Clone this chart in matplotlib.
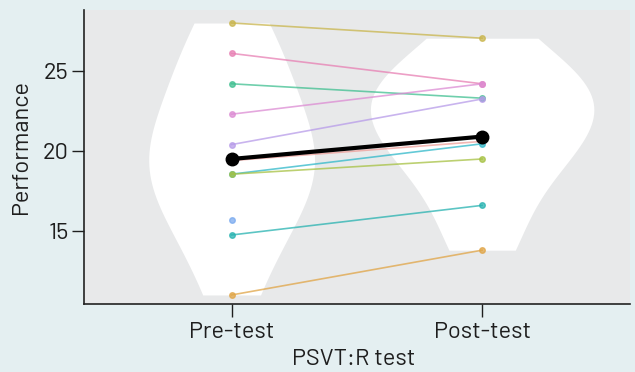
import numpy as np
import matplotlib
matplotlib.use("Agg")
import matplotlib.pyplot as plt

# ---- data ----
tests = ["Pre-test", "Post-test"]
subject_colors = ["#c9b54c", "#e77fb3", "#3fbf90", "#dc8bd3", "#b79be9", "#ee9f9a",
                  "#2fb8c9", "#a6c142", "#78a9ef", "#26b2b0", "#e0a445"]
pre_scores = [28.0, 26.1, 24.2, 22.3, 20.4, 19.4, 18.55, 18.55, 15.7, 14.75, 11.0]
post_scores = [27.05, 24.2, 23.3, 24.2, 23.25, 20.6, 20.45, 19.5, np.nan, 16.6, 13.8]
mean_scores = [19.5, 20.9]
y_ticks = [15, 20, 25]

BG = "#e4eff1"
PANEL = "#e8e9ea"
TXT = "#1e1e1e"
plt.rcParams["font.family"] = ["Barlow", "Barlow Semi Condensed", "DejaVu Sans"]

fig = plt.figure(figsize=(6.35, 3.72), dpi=100, facecolor=BG)
ax = fig.add_axes([0.132, 0.183, 0.860, 0.790])
ax.set_facecolor(PANEL)

xpos = [0, 1]

def kde(vals, grid):
    v = np.asarray([x for x in vals if not np.isnan(x)])
    bw = 1.06 * v.std(ddof=1) * len(v) ** (-1 / 5)
    d = np.exp(-0.5 * ((grid[:, None] - v[None, :]) / bw) ** 2).sum(1)
    return d / (len(v) * bw * np.sqrt(2 * np.pi))

grids, dens = [], []
for vals in (pre_scores, post_scores):
    v = np.asarray([x for x in vals if not np.isnan(x)])
    g = np.linspace(v.min(), v.max(), 60)
    grids.append(g)
    dens.append(kde(vals, g))
scale = 0.446 / max(d.max() for d in dens)
for x0, g, d in zip(xpos, grids, dens):
    ax.fill_betweenx(g, x0 - d * scale, x0 + d * scale, color="white", lw=0, zorder=1)

for c, a, b in zip(subject_colors, pre_scores, post_scores):
    ax.plot(xpos, [a, b], color=c, lw=1.2, alpha=0.75, marker="o", ms=4,
            zorder=2)

ax.plot(xpos, mean_scores, color="black", lw=3, marker="o", ms=9, zorder=3)

ax.set_xlim(-0.59, 1.59)
ax.set_ylim(10.44, 28.81)
ax.set_xticks(xpos)
ax.set_xticklabels(tests)
ax.set_yticks(y_ticks)
ax.tick_params(axis="both", labelsize=17, colors=TXT, length=9, width=1)
ax.tick_params(axis="x", pad=4)
ax.tick_params(axis="y", pad=2)
ax.set_xlabel("PSVT:R test", fontsize=17, color=TXT)
ax.set_ylabel("Performance", fontsize=17, color=TXT)
ax.xaxis.set_label_coords(0.494, -0.152)
ax.yaxis.set_label_coords(-0.095, 0.535)
for s in ("top", "right"):
    ax.spines[s].set_visible(False)
for s in ("left", "bottom"):
    ax.spines[s].set_color("#222222")
    ax.spines[s].set_linewidth(1.2)

fig.savefig("out.png", dpi=100, facecolor=BG)
